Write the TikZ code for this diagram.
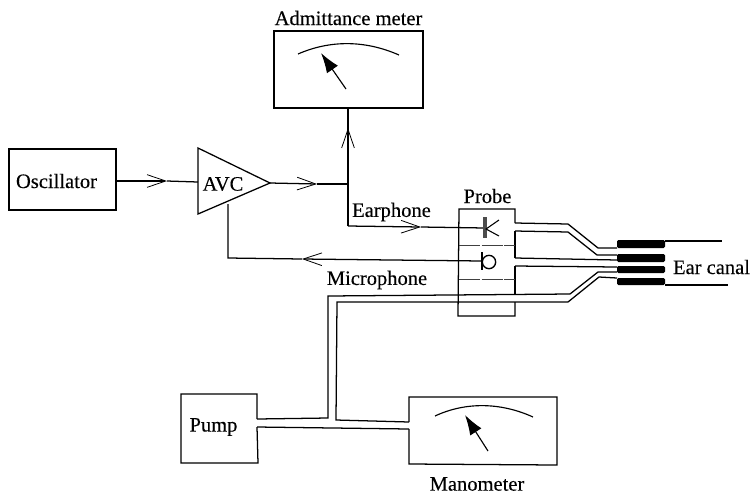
\documentclass[tikz,border=0pt]{standalone}
\usepackage{fontspec}
\setmainfont[FakeBold=0.25]{Liberation Serif}
\usetikzlibrary{arrows.meta}
\tikzset{
  x=0.75pt,y=-0.75pt,
  every path/.style={line width=0.95pt,line join=miter},
  lbl/.style={inner sep=0pt,font=\fontsize{15.4pt}{17pt}\selectfont},
  barb/.style={-{Straight Barb[length=14pt,width=9.5pt,line width=0.6pt]}},
  thin dash/.style={line width=0.55pt,dash pattern=on 16pt off 1pt,draw=black!75},
  scale arc/.style={line width=0.85pt},
  needle/.style={line width=0.85pt,-{Latex[length=15pt,width=10pt]}}
}
\begin{document}
\begin{tikzpicture}
\useasboundingbox (0,0) rectangle (750,494);
% blocks
\node[draw,inner sep=0pt,minimum width=80.25pt,minimum height=45.75pt] (osc) at (62.5,179.5) {};
\node[lbl] (osct) at (56.5,181) {Oscillator};
\node[draw,inner sep=0pt,minimum width=111.75pt,minimum height=57.75pt] (meter) at (348.5,69.5) {};
\node[lbl] (metert) at (348.5,18) {Admittance meter};
% amplifier
\coordinate (t1) at (198,148);
\coordinate (t2) at (198,214);
\coordinate (t3) at (270,183);
\draw (t1) -- (t3) -- (t2) -- cycle;
\node[lbl] (avc) at (223,184) {AVC};
% amplifier wiring
\coordinate (inp) at (198,182);
\coordinate (oscm) at (167,181);
\draw[barb] (osc.east |- 0,181) -- (oscm);
\draw (oscm) -- (inp);
\coordinate (outm) at (317,184);
\coordinate (junc) at (348,184);
\draw[barb] (t3) -- (outm);
\draw (outm) -- (junc);
\coordinate (jlow) at (348,226);
\coordinate (upm) at (348,128);
\draw (meter.south -| junc) -- (jlow);
\draw[barb] (junc) -- (upm);
\coordinate (earm) at (421,227);
\coordinate (ear) at (485,228);
\draw[barb] (jlow) -- (earm);
\draw (earm) -- (ear);
\coordinate (fb) at (228,204);
\coordinate (fbc) at (228,258);
\coordinate (micm) at (302,259);
\coordinate (mic) at (482,261);
\draw (fb) -- (fbc) -- (micm);
\draw[barb] (mic) -- (micm);
\node[lbl] (eart) at (391.5,212) {Earphone};
\node[lbl] (mict) at (377,280) {Microphone};
% probe
\node[lbl] (probet) at (487.5,196) {Probe};
\coordinate (pa) at (515,223);
\coordinate (pb) at (515,231);
\coordinate (pc) at (515,258);
\coordinate (pd) at (515,266);
\coordinate (pe) at (515,295);
\coordinate (pf) at (515,302);
\coordinate (pg) at (515,316);
\coordinate (ph) at (458,316);
\coordinate (pi) at (459,209);
\coordinate (pj) at (515,209);
\draw (pa) -- (pj) -- (pi) -- (ph) -- (pg) -- (pf);
\draw (pb) -- (pc);
\draw (pd) -- (pe);
\draw[thin dash] (pi |- 0,245) -- (pa |- 0,245);
\draw[thin dash] (pi |- 0,279) -- (pa |- 0,279);
% transducers
\draw[line width=2.8pt,draw=black!70] (485,217) -- (485,238);
\draw[line width=0.8pt] (499,220) -- (486,229) -- (499,236);
\draw[line width=1pt] (482,252) -- (482,270);
\node[draw,circle,line width=1pt,inner sep=0pt,minimum size=10pt] (micc) at (489,262) {};
% tubes to the ear
\coordinate (ea) at (617,248);
\coordinate (eb) at (617,255);
\coordinate (ec) at (617,260);
\coordinate (ed) at (617,267);
\coordinate (ee) at (617,272);
\coordinate (ef) at (617,278);
\draw (pa) -- (568,224) -- (598,248) -- (ea);
\draw (pb) -- (568,232) -- (597,255) -- (eb);
\draw (pc) -- (ec);
\draw (pd) -- (ed);
% ear tip
\fill[rounded corners=1pt] (617,240) rectangle (665,248);
\fill[rounded corners=1pt] (617,254) rectangle (665,262);
\fill[rounded corners=1pt] (617,266) rectangle (665,273);
\fill[rounded corners=1pt] (617,278) rectangle (665,285);
\coordinate (c1) at (665,241);
\coordinate (c2) at (722,241);
\coordinate (c3) at (665,285);
\coordinate (c4) at (728,285);
\draw (c1) -- (c2);
\draw (c3) -- (c4);
\node[lbl] (cant) at (711.5,267) {Ear canal};
% pump and manometer
\coordinate (pu1) at (257,419);
\coordinate (pu2) at (257,394);
\coordinate (pu3) at (181,394);
\coordinate (pu4) at (181,463);
\coordinate (pu5) at (258,463);
\coordinate (pu6) at (257,427);
\draw (pu1) -- (pu2) -- (pu3) -- (pu4) -- (pu5) -- (pu6);
\node[lbl] (pumpt) at (213.5,427) {Pump};
\coordinate (ma1) at (409,422);
\coordinate (ma2) at (409,397);
\coordinate (ma3) at (557,397);
\coordinate (ma4) at (557,465);
\coordinate (ma5) at (409,464);
\coordinate (ma6) at (409,429);
\draw (ma1) -- (ma2) -- (ma3) -- (ma4) -- (ma5) -- (ma6);
\node[lbl] (mant) at (477,484) {Manometer};
\draw (pu1) -- (328,418) -- (328,296) -- (570,294) -- (598,272) -- (ee);
\draw (ma1) -- (336,420) -- (337,302) -- (568,302) -- (599,277) -- (ef);
\draw (pu6) -- (ma6);
% dials
\draw[scale arc] (298,54) .. controls (330,40) and (365,40) .. (399,55);
\coordinate (n1) at (346,89);
\coordinate (n2) at (321,53);
\draw[needle] (n1) -- (n2);
\draw[scale arc] (435,416) .. controls (465,402) and (500,402) .. (533,417);
\coordinate (n3) at (488,451);
\coordinate (n4) at (465,415);
\draw[needle] (n3) -- (n4);
\end{tikzpicture}
\end{document}
